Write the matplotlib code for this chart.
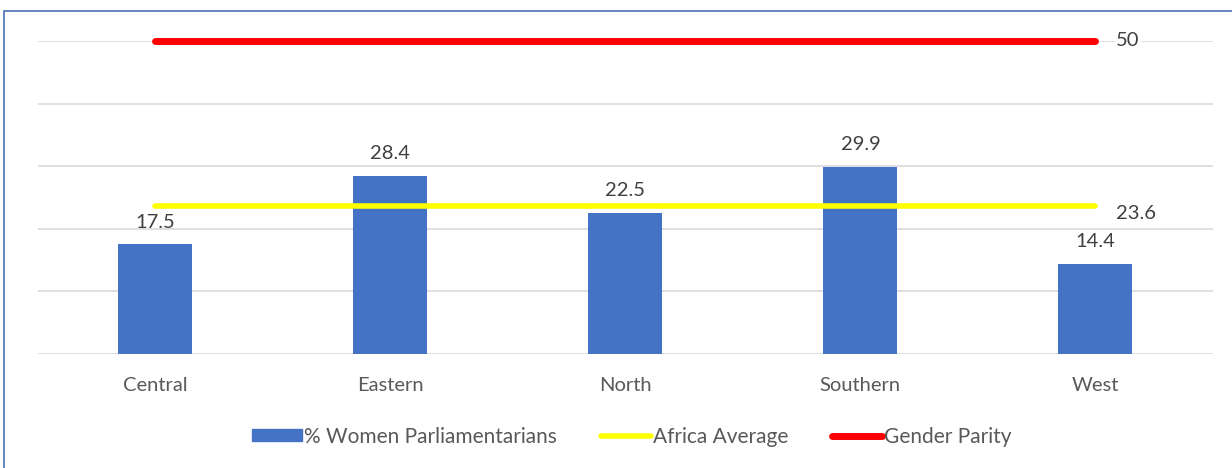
import matplotlib.pyplot as plt
from matplotlib.patches import Rectangle
from matplotlib.lines import Line2D

regions = ['Central', 'Eastern', 'North', 'Southern', 'West']
women_pct = [17.5, 28.4, 22.5, 29.9, 14.4]
africa_avg = 23.6
gender_parity = 50

plt.rcParams['font.family'] = ['Lato', 'DejaVu Sans']
txt = '#404040'
grey = '#595959'

fig = plt.figure(figsize=(12.32, 4.68), dpi=100)
fig.patches.append(Rectangle((0.0035, -0.01), 1.02, 0.987, transform=fig.transFigure,
                             fill=False, edgecolor='#4a72b0', linewidth=1.2))

ax = fig.add_axes([0.0308, 0.2436, 0.9537, 0.6688])
x = range(len(regions))
ax.bar(x, women_pct, width=0.315, color='#4472c4', zorder=3)
for i, v in enumerate(women_pct):
    ax.annotate(f'{v}', (i, v), xytext=(0, 10), textcoords='offset points',
                ha='center', va='bottom', fontsize=14.5, color=txt)

ax.plot([0, len(regions) - 1], [africa_avg] * 2, color='#ffff00', lw=4,
        solid_capstyle='round', zorder=4)
ax.plot([0, len(regions) - 1], [gender_parity] * 2, color='#ff0000', lw=5,
        solid_capstyle='round', zorder=4, clip_on=False)
ax.annotate(f'{africa_avg}', (len(regions) - 1, africa_avg), xytext=(15, -5),
            textcoords='offset points', ha='left', va='center', fontsize=14.5, color=txt)
ax.annotate(f'{gender_parity}', (len(regions) - 1, gender_parity), xytext=(15, 0),
            textcoords='offset points', ha='left', va='center', fontsize=14.5, color=txt,
            bbox=dict(facecolor='white', edgecolor='none', pad=1))

ax.set_xlim(-0.5, len(regions) - 0.5)
ax.set_ylim(0, 50)
ax.set_yticks(range(0, 51, 10))
ax.yaxis.grid(True, color='#d9d9d9', lw=1.2, zorder=0)
ax.set_yticklabels([])
ax.tick_params(left=False, bottom=False, labelsize=14.5, labelcolor=grey, pad=13)
ax.set_xticks(list(x))
ax.set_xticklabels(regions)
for s in ax.spines.values():
    s.set_visible(False)

handles = [Rectangle((0, 0), 1, 1, color='#4472c4'),
           Line2D([], [], color='#ffff00', lw=4, solid_capstyle='round'),
           Line2D([], [], color='#ff0000', lw=5, solid_capstyle='round')]
labels = ['% Women Parliamentarians', 'Africa Average', 'Gender Parity']
leg = fig.legend(handles, labels, loc='center', bbox_to_anchor=(0.513, 0.067), ncol=3,
                 frameon=False, fontsize=15, handlelength=2.4, handleheight=0.5,
                 handletextpad=0.1, columnspacing=2.1)
for t in leg.get_texts():
    t.set_color(grey)

fig.savefig('out.png', dpi=100)
